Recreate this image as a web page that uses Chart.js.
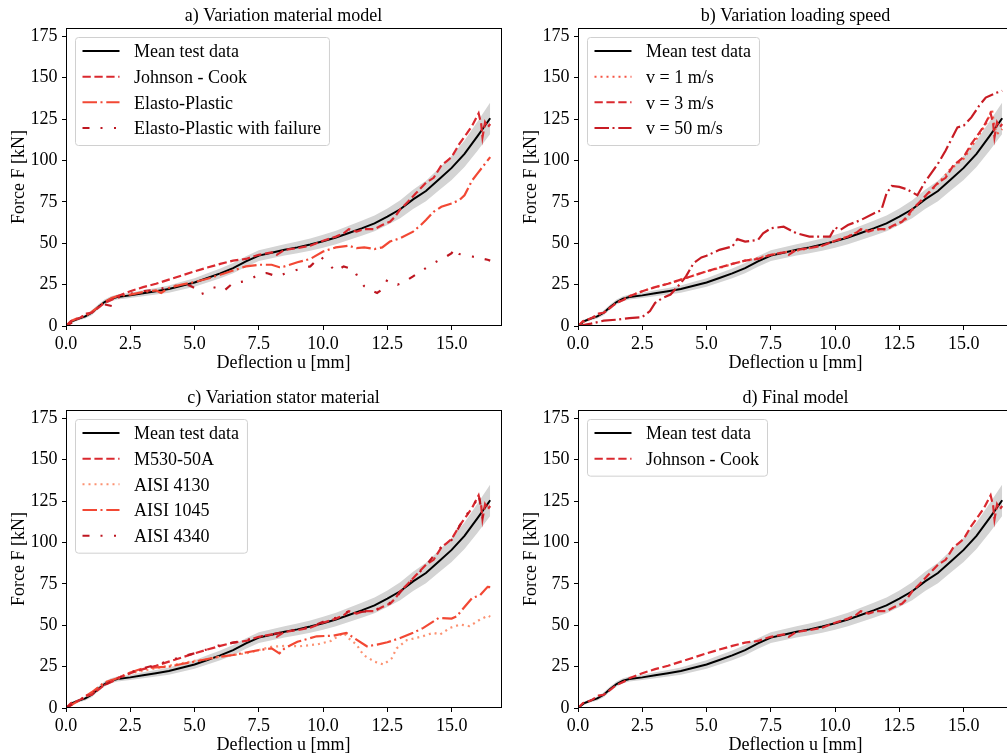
<!DOCTYPE html>
<html>
<head>
<meta charset="utf-8">
<script src="https://cdn.jsdelivr.net/npm/chart.js@4.4.0/dist/chart.umd.min.js"></script>
<style>
  html, body { margin: 0; padding: 0; background: #fff; overflow: hidden; }
  body { width: 1007px; height: 756px; position: relative; }
  canvas { position: absolute; }
</style>
</head>
<body>
<canvas id="ca" width="507" height="378" style="left:0px;top:0px"></canvas>
<canvas id="cb" width="507" height="378" style="left:512px;top:0px"></canvas>
<canvas id="cc" width="507" height="378" style="left:0px;top:382px"></canvas>
<canvas id="cd" width="507" height="378" style="left:512px;top:382px"></canvas>
<script>
// tick labels
var xTicks = [0, 2.5, 5, 7.5, 10, 12.5, 15];
var yTicks = [0, 25, 50, 75, 100, 125, 150, 175];

// mean test data and scatter band (deflection in mm, force in kN)
var uGrid = [0,0.25,0.5,0.75,1,1.25,1.5,1.75,2,2.5,3,3.5,4,4.5,5,5.5,6,6.5,7,7.5,8,8.5,9,9.5,10,10.5,11,11.5,12,12.5,13,13.5,14,14.5,15,15.5,16,16.5];
var meanF = [0,3,4.5,5.8,8,11.5,14.5,16.5,17.5,18.5,19.8,21,22.3,24.3,26.3,29,31.8,35,39,42.5,44.2,46,47.5,49.2,51.2,53.5,56.2,59,62,66,70.5,76.5,81.5,88.5,95.5,104,114.5,125.5];
var bandHi = [0.5,4,5.5,7,9.5,13,16,18,19,20.1,21.6,23,24.5,26.7,28.9,31.8,34.8,38.1,42.2,45.7,47.5,49.4,51,52.9,55.1,57.6,60.5,63.5,66.7,71,75.9,82.3,87.7,95.2,102.8,112,123.3,135];
var bandLo = [0,2,3.5,4.6,6.5,10,13,15,16,16.9,18,19,20.1,21.9,23.7,26.2,28.8,31.9,35.8,39.3,40.9,42.6,44,45.5,47.3,49.4,51.9,54.5,57.3,61,65.1,70.7,75.3,81.8,88.2,96,105.7,116];

// Johnson - Cook (also v = 3 m/s, M530-50A)
var jcU = [0,0.2,0.5,0.7,0.8,1.0,1.3,1.5,1.8,2.0,2.5,3.0,3.5,4.0,4.5,5.0,5.5,6.0,6.5,7.0,7.5,8.0,8.2,8.5,9.0,9.5,10.0,10.5,10.8,11.0,11.3,11.6,12.0,12.3,12.6,12.8,13.0,13.3,13.6,14.0,14.3,14.6,14.8,15.0,15.3,15.6,15.8,16.05,16.15,16.2,16.3,16.4,16.5];
var jcF = [0,3,4.5,6.5,7.5,8,11.5,14,16,18,21,23.5,25.5,28,30.5,33,35.3,37.5,39.5,40.5,43,44.5,43,46,47,48.5,51.5,54,56,58.5,57,58.5,58.5,61,63,66,70.5,75,80,86.5,89.5,97,99.5,102,110,116.5,121,128.5,122,114,123,120,122];

// Elasto-Plastic
var epU = [0,0.2,0.5,0.8,1.0,1.3,1.5,1.8,2.0,2.5,3.0,3.5,3.7,4.0,4.5,5.0,5.5,6.0,6.5,7.0,7.5,8.0,8.3,8.5,9.0,9.5,10.0,10.5,11.0,11.3,11.6,12.0,12.3,12.6,13.0,13.5,13.8,14.0,14.3,14.6,15.0,15.3,15.5,15.8,16.0,16.3,16.5];
var epF = [0,3,5,6.5,8.5,12,14.5,17,18,19,20.5,21.5,20,23,25,26.5,28.5,31,33.5,36,37,37,35.5,36,38.5,40.5,45,47.5,48.5,47,47.5,46.5,47.5,51,53,57,61,64,69,72,74,76,79,88,92,98,102];

// Elasto-Plastic with failure
var efU = [0,0.5,1.0,1.5,1.8,2.0,2.5,3.0,3.5,4.0,4.5,4.8,5.0,5.2,5.4,5.7,6.0,6.2,6.5,7.0,7.5,7.8,8.2,8.6,9.0,9.5,9.9,10.1,10.5,10.8,11.2,11.4,11.6,11.8,12.1,12.3,12.5,12.9,13.1,13.5,14.0,14.3,14.8,15.0,15.1,15.3,15.8,16.4,16.5];
var efF = [0,4.5,8.5,13,12,17,19.5,21,22,23.5,25,24.5,23,19,20,23,24,22,26,27,31,32,30,32,34,36,42,39,33,36,34,28,24,22,20,22,28,25,26,30,35,38,42,44,47,43.5,42,40,39.5];

// v = 1 m/s
var v1U = [0,0.3,0.6,0.8,1.0,1.5,2.0,2.5,3.0,3.5,4.0,4.5,5.0,5.5,6.0,6.5,7.0,7.5,8.0,8.5,9.0,9.5,10.0,10.5,11.0,11.5,12.0,12.5,12.8,13.0,13.5,14.0,14.5,15.0,15.5,15.9,16.1,16.2,16.3,16.5];
var v1F = [0,3.5,5,7,8,14,18,21,23.5,25.5,28,30.5,33,35,37.5,39.5,41,43,44.5,45.5,47,48.5,51.5,54,58,58,58.5,62,65,70,78,86,95,101,113,123,131,120,116,119];

// v = 50 m/s
var v50U = [0,0.5,1.0,1.5,2.0,2.5,2.8,3.0,3.3,3.6,4.0,4.2,4.5,4.8,5.0,5.5,6.0,6.2,6.5,7.0,7.2,7.5,8.0,8.5,9.0,9.5,9.8,10.0,10.2,10.5,11.0,11.5,11.8,12.0,12.2,12.5,12.8,13.2,13.5,14.0,14.3,14.76,15.0,15.3,15.6,15.86,16.3,16.5];
var v50F = [0,1.4,3.2,3.8,4.8,5.4,9,14,17,19,26,30,38,41.4,42.4,46,48,52.5,51,52,56,59,60,56,54,54,54,59.5,58,61,64,68,70,80,84.6,84,82.5,79,87,98,106,120,121,126,133,138,141,142];

// AISI 4130
var a4130U = [0,0.5,1.0,1.5,2.0,2.5,3.0,3.5,4.0,4.5,5.0,5.5,6.0,6.5,7.0,7.5,8.0,8.5,9.1,9.8,10.3,10.8,11.0,11.3,11.57,12.0,12.35,12.67,12.86,13.26,13.8,14.29,14.55,14.94,15.33,15.7,16.1,16.43,16.5];
var a4130F = [0,4.5,9,15,17.5,21,22.5,24,25.5,27,28.5,29.5,31,32,33,35,37,37.5,37.3,38.5,40.5,45.4,42,38.3,32,28,26.3,30,36,41,43,45.4,44.4,48.4,50.4,49.4,53.4,55.8,55];

// AISI 1045
var a1045U = [0,0.5,1.0,1.5,2.0,2.5,3.0,3.5,4.0,4.5,5.0,5.5,6.0,6.5,7.0,7.5,8.0,8.3,8.5,9.0,9.75,10.4,10.9,11.3,11.7,12.1,12.5,13.0,13.5,13.9,14.5,15.0,15.2,15.5,15.8,16.1,16.4,16.5];
var a1045F = [0,4.5,9.5,15.5,18,21.5,24,24.5,25,26.6,28,29.6,31,32,33.5,35,36,33,36,40,43.3,43.7,45.4,41.3,37.3,38.3,39.7,42.3,45.4,48.4,54.4,54,55.4,61,66.5,68,73.2,73];

// AISI 4340
var a4340U = [0,0.5,1.0,1.5,2.0,2.5,3.0,3.5,4.0,4.5,5.0,5.5,6.0,6.5,7.0,7.5,8.0,8.5,9.0,9.5,10.0,10.5,11.0,11.5,12.0,12.5,12.8,13.0,13.5,14.0,14.5,15.0,15.5,15.9,16.05,16.2,16.3,16.5];
var a4340F = [0,4.5,8.5,14,18,21.5,24,26,28.5,31,33,35.5,38,39.5,41,43,44.5,46,47.5,49,52,54.5,58.5,58,59,62.5,65.5,70,78,86,96,101.5,115,123.5,129,116,123,121];

var FONT = "'Liberation Serif', 'Times New Roman', serif";
Chart.defaults.font.family = FONT;
Chart.defaults.font.size = 18;
Chart.defaults.color = '#000';

var DASHED = [8.3, 3.6];
var DASHDOT = [14.5, 3.5, 2, 3.8];
var DOTTED = [2, 4];
var DASHDOTDOT = [7, 11, 2, 11.5, 2, 11];

function pts(xs, ys) {
  return xs.map(function (x, i) { return {x: x, y: ys[i]}; });
}

function series(label, xs, ys, color, dash, order) {
  return {
    label: label, data: pts(xs, ys), borderColor: color, borderDash: dash,
    borderWidth: 2.2, pointRadius: 0, tension: 0, fill: false, order: order
  };
}

function baseSets() {
  var mean = series('Mean test data', uGrid, meanF, '#000000', [], 20);
  mean.borderWidth = 2;
  return [
    {data: pts(uGrid, bandLo), borderWidth: 0, pointRadius: 0, fill: false, order: 30},
    {data: pts(uGrid, bandHi), borderWidth: 0, pointRadius: 0, fill: '-1',
     backgroundColor: '#d4d4d4', borderColor: 'rgba(0,0,0,0)', order: 30},
    mean
  ];
}

// frame round the plot area
var frame = {
  id: 'frame',
  afterDraw: function (chart) {
    var a = chart.chartArea, ctx = chart.ctx;
    ctx.save();
    ctx.strokeStyle = '#000';
    ctx.lineWidth = 1;
    ctx.strokeRect(Math.round(a.left) + 0.5, Math.round(a.top) + 0.5,
                   Math.round(a.right - a.left), Math.round(a.bottom - a.top) - 1);
    ctx.restore();
  }
};

// matplotlib style legend in the upper left corner
var boxLegend = {
  id: 'boxLegend',
  afterDraw: function (chart) {
    var a = chart.chartArea, ctx = chart.ctx;
    var items = chart.data.datasets.filter(function (d) { return d.label; });
    ctx.save();
    ctx.font = '18px ' + FONT;
    var maxW = 0;
    items.forEach(function (d) { maxW = Math.max(maxW, ctx.measureText(d.label).width); });
    var x0 = a.left + 9.5, y0 = a.top + 9.5;
    var w = 59 + maxW + 8, h = 31 + 25.67 * (items.length - 1);
    var r = 3;
    ctx.beginPath();
    ctx.moveTo(x0 + r, y0);
    ctx.arcTo(x0 + w, y0, x0 + w, y0 + h, r);
    ctx.arcTo(x0 + w, y0 + h, x0, y0 + h, r);
    ctx.arcTo(x0, y0 + h, x0, y0, r);
    ctx.arcTo(x0, y0, x0 + w, y0, r);
    ctx.closePath();
    ctx.fillStyle = 'rgba(255,255,255,0.8)';
    ctx.fill();
    ctx.strokeStyle = '#d0d0d0';
    ctx.lineWidth = 1;
    ctx.stroke();
    items.forEach(function (d, i) {
      var yy = y0 + 13.5 + 25.67 * i;
      ctx.beginPath();
      ctx.setLineDash(d.borderDash || []);
      ctx.strokeStyle = d.borderColor;
      ctx.lineWidth = 2;
      ctx.moveTo(x0 + 7, yy);
      ctx.lineTo(x0 + 44, yy);
      ctx.stroke();
      ctx.setLineDash([]);
      ctx.fillStyle = '#000';
      ctx.textBaseline = 'middle';
      ctx.textAlign = 'left';
      ctx.fillText(d.label, x0 + 58.5, yy + 1.5);
    });
    ctx.restore();
  }
};

function makeChart(id, title, extra) {
  var ctx = document.getElementById(id).getContext('2d');
  return new Chart(ctx, {
    type: 'line',
    data: { datasets: baseSets().concat(extra) },
    options: {
      responsive: false,
      animation: false,
      devicePixelRatio: 1,
      layout: { padding: { left: 0, right: 6, top: 0, bottom: 0 } },
      plugins: {
        legend: { display: false },
        tooltip: { enabled: false },
        title: {
          display: true, text: title, fullSize: false,
          font: { size: 18, weight: 'normal' }, color: '#000',
          padding: { top: 5, bottom: 1.4 }
        }
      },
      scales: {
        x: {
          type: 'linear', min: 0, max: 16.92,
          afterBuildTicks: function (s) { s.ticks = xTicks.map(function (v) { return {value: v}; }); },
          afterFit: function (s) { s.height = 52; },
          grid: { drawOnChartArea: false, drawTicks: true, tickLength: 4, color: '#000' },
          border: { display: false },
          ticks: { padding: 3, autoSkip: false, maxRotation: 0,
                   callback: function (v) { return v.toFixed(1); } },
          title: { display: true, text: 'Deflection u [mm]', padding: { top: 0, bottom: 4 } }
        },
        y: {
          type: 'linear', min: 0, max: 180,
          afterBuildTicks: function (s) { s.ticks = yTicks.map(function (v) { return {value: v}; }); },
          afterFit: function (s) { s.width = 66; },
          grid: { drawOnChartArea: false, drawTicks: true, tickLength: 4, color: '#000' },
          border: { display: false },
          ticks: { padding: 4.5, callback: function (v) { return String(v); } },
          title: { display: true, text: 'Force F [kN]', padding: { top: 8, bottom: 0 } }
        }
      }
    },
    plugins: [frame, boxLegend]
  });
}

makeChart('ca', 'a) Variation material model', [
  series('Johnson - Cook', jcU, jcF, 'rgb(218,41,47)', DASHED, 1),
  series('Elasto-Plastic', epU, epF, 'rgb(242,72,52)', DASHDOT, 2),
  series('Elasto-Plastic with failure', efU, efF, 'rgb(190,22,32)', DASHDOTDOT, 3)
]);

makeChart('cb', 'b) Variation loading speed', [
  series('v = 1 m/s', v1U, v1F, 'rgb(246,85,68)', DOTTED, 2),
  series('v = 3 m/s', jcU, jcF, 'rgb(218,41,47)', DASHED, 1),
  series('v = 50 m/s', v50U, v50F, 'rgb(200,28,36)', DASHDOT, 3)
]);

makeChart('cc', 'c) Variation stator material', [
  series('M530-50A', jcU, jcF, 'rgb(218,41,47)', DASHED, 2),
  series('AISI 4130', a4130U, a4130F, 'rgb(252,146,114)', DOTTED, 4),
  series('AISI 1045', a1045U, a1045F, 'rgb(242,72,52)', DASHDOT, 3),
  series('AISI 4340', a4340U, a4340F, 'rgb(190,22,32)', DASHDOTDOT, 1)
]);

makeChart('cd', 'd) Final model', [
  series('Johnson - Cook', jcU, jcF, 'rgb(218,41,47)', DASHED, 1)
]);
</script>
</body>
</html>
